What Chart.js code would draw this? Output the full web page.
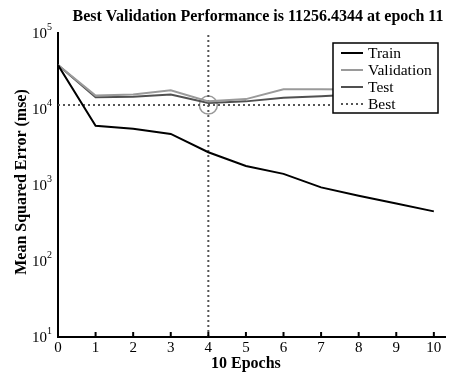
<!DOCTYPE html>
<html>
<head>
<meta charset="utf-8">
<script src="https://cdn.jsdelivr.net/npm/chart.js@4/dist/chart.umd.min.js"></script>
<style>
  html, body { margin: 0; padding: 0; background: #fff; }
  #wrap { width: 456px; height: 377px; }
</style>
</head>
<body>
<div id="wrap"><canvas id="perf"></canvas></div>
<script>
const epochs = [0, 1, 2, 3, 4, 5, 6, 7, 8, 9, 10]
const trainMse = [37900, 6030, 5500, 4700, 2700, 1780, 1400, 930, 720, 570, 450]
const validMse = [37900, 15000, 15500, 17600, 12600, 13500, 18200, 18200, 18100, 18000, 18000]
const testMse = [37900, 14300, 14500, 15500, 12000, 12600, 14100, 14700, 15600, 16500, 17300]
const bestEpoch = 4
const bestPerf = 11256.4344
const yDecades = [1e1, 1e2, 1e3, 1e4, 1e5]
const xTicks = [0, 1, 2, 3, 4, 5, 6, 7, 8, 9, 10]

const serif = '"Liberation Serif", "Times New Roman", serif'
const toPoints = (ys) => epochs.map((e, i) => ({ x: e, y: ys[i] }))

// legend, axis labels and inward tick marks, matlab-ish
const decorations = {
    id: 'decorations',
    afterDatasetsDraw(chart) {
        const ctx = chart.ctx
        const box = { x: 333, y: 43, w: 105, h: 70 }
        ctx.save()
        ctx.fillStyle = '#fff'
        ctx.fillRect(box.x, box.y, box.w, box.h)
        ctx.strokeStyle = '#000'
        ctx.lineWidth = 1.5
        ctx.strokeRect(box.x, box.y, box.w, box.h)
        ctx.font = '15.5px ' + serif
        ctx.textBaseline = 'middle'
        ctx.textAlign = 'left'
        const shown = chart.data.datasets.filter(d => d.inLegend)
        shown.forEach((ds, i) => {
            const yy = box.y + 10 + i * 17
            ctx.strokeStyle = ds.borderColor
            ctx.lineWidth = ds.borderWidth
            ctx.setLineDash(ds.borderDash || [])
            ctx.beginPath()
            ctx.moveTo(box.x + 8, yy)
            ctx.lineTo(box.x + 30, yy)
            ctx.stroke()
            ctx.setLineDash([])
            ctx.fillStyle = '#000'
            ctx.fillText(ds.label, box.x + 35, yy + 1)
        })
        ctx.restore()
    },
    afterDraw(chart) {
        const ctx = chart.ctx
        const xs = chart.scales.x
        const ys = chart.scales.y
        const area = chart.chartArea
        ctx.save()
        ctx.fillStyle = '#000'
        ctx.strokeStyle = '#000'

        // x ticks point into the plot
        ctx.lineWidth = 2
        xTicks.forEach(v => {
            const px = xs.getPixelForValue(v)
            ctx.beginPath()
            ctx.moveTo(px, area.bottom)
            ctx.lineTo(px, area.bottom - 5)
            ctx.stroke()
        })
        ctx.font = '15px ' + serif
        ctx.textAlign = 'center'
        ctx.textBaseline = 'top'
        xTicks.forEach(v => ctx.fillText(String(v), xs.getPixelForValue(v), area.bottom + 4))

        // y labels as 10 with a raised exponent
        yDecades.forEach(v => {
            const py = ys.getPixelForValue(v)
            ctx.font = '15px ' + serif
            ctx.textAlign = 'right'
            ctx.textBaseline = 'middle'
            ctx.fillText('10', 47, py + 1)
            ctx.font = '10px ' + serif
            ctx.textAlign = 'left'
            ctx.fillText(String(Math.round(Math.log10(v))), 47, py - 6)
        })

        ctx.font = 'bold 16px ' + serif
        ctx.textAlign = 'center'
        ctx.textBaseline = 'middle'
        ctx.fillText('10 Epochs', xs.getPixelForValue(5), 364)
        ctx.fillText('Best Validation Performance is 11256.4344 at epoch 11', 258, 17)

        ctx.translate(22, (area.top + area.bottom) / 2 - 3)
        ctx.rotate(-Math.PI / 2)
        ctx.fillText('Mean Squared Error (mse)', 0, 0)
        ctx.restore()
    }
}

const ctx = document.getElementById('perf').getContext('2d')
const perfChart = new Chart(ctx, {
    type: 'line',
    data: {
        datasets: [
            {
                label: 'Train',
                data: toPoints(trainMse),
                borderColor: '#000',
                borderWidth: 2,
                pointRadius: 0,
                inLegend: true,
            },
            {
                label: 'Validation',
                data: toPoints(validMse),
                borderColor: '#9a9a9a',
                borderWidth: 2,
                pointRadius: 0,
                inLegend: true,
            },
            {
                label: 'Test',
                data: toPoints(testMse),
                borderColor: '#505050',
                borderWidth: 2,
                pointRadius: 0,
                inLegend: true,
            },
            {
                label: 'Best',
                data: [{ x: 0, y: bestPerf }, { x: 10, y: bestPerf }],
                borderColor: '#555',
                borderWidth: 2,
                borderDash: [2, 3],
                pointRadius: 0,
                inLegend: true,
            },
            {
                label: 'bestEpochLine',
                data: [{ x: bestEpoch, y: 1e1 }, { x: bestEpoch, y: 1e5 }],
                borderColor: '#555',
                borderWidth: 2,
                borderDash: [2, 3],
                pointRadius: 0,
            },
            {
                label: 'bestPoint',
                data: [{ x: bestEpoch, y: bestPerf }],
                showLine: false,
                pointRadius: 9,
                pointBorderWidth: 1.5,
                pointBorderColor: '#999',
                pointBackgroundColor: 'rgba(0,0,0,0)',
            },
        ]
    },
    options: {
        responsive: true,
        maintainAspectRatio: false,
        animation: false,
        events: [],
        layout: {
            padding: { left: 58, right: 3, top: 33, bottom: 40 }
        },
        plugins: {
            legend: { display: false },
            tooltip: { enabled: false },
            title: { display: false },
        },
        scales: {
            x: {
                type: 'linear',
                min: 0,
                max: 10.31,
                ticks: { display: false },
                grid: { display: false, drawTicks: false },
                border: { display: true, color: '#000', width: 2 },
            },
            y: {
                type: 'logarithmic',
                min: 1e1,
                max: 1e5,
                ticks: { display: false },
                grid: { display: false, drawTicks: false },
                border: { display: true, color: '#000', width: 2 },
            }
        }
    },
    plugins: [decorations]
})
</script>
</body>
</html>
